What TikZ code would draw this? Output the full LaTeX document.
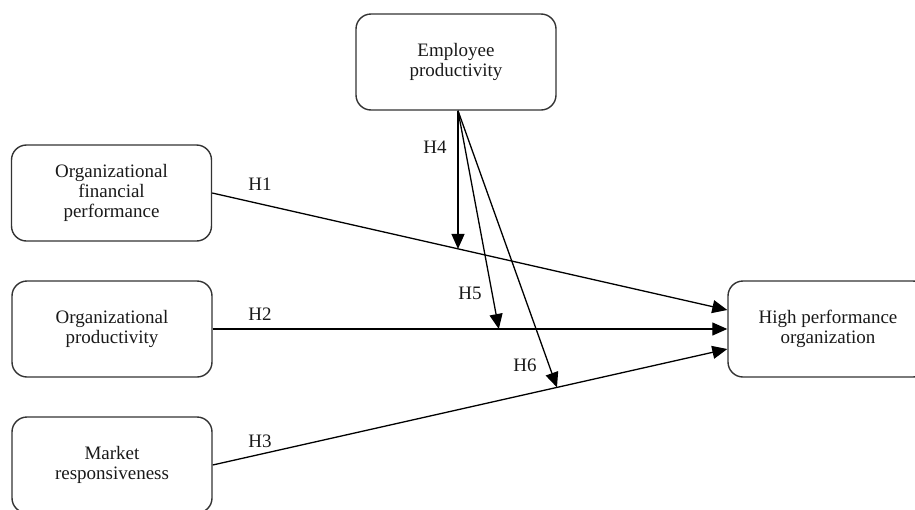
\documentclass[tikz,border=0pt]{standalone}
\usepackage{fontspec}
\setmainfont{Liberation Serif}
\usetikzlibrary{arrows.meta}
\tikzset{
  box/.style={draw=black!80,line width=1.4pt,rounded corners=15pt,minimum width=200pt,
    minimum height=96pt,align=center,font=\fontsize{19}{20}\selectfont,text=black!90},
  arr/.style={line width=1.3pt,-{Triangle[length=15pt,width=13pt]}},
  hyp/.style={anchor=base,font=\fontsize{19}{20}\selectfont,text=black!90,inner sep=0pt}
}
\begin{document}
\begin{tikzpicture}[x=1pt,y=-1pt]
  \useasboundingbox (0,0) rectangle (915,509);
  \node[box] (emp) at (456,62) {Employee\\productivity};
  \node[box] (ofp) at (111.5,193) {Organizational\\financial\\performance};
  \node[box] (op) at (112,329) {Organizational\\productivity};
  \node[box] (mr) at (112,465) {Market\\responsiveness};
  \node[box] (hpo) at (828,329) {High performance\\organization};
  % direct effects
  \draw[arr] (ofp.east) -- coordinate[pos=.478] (m1) ([yshift=19pt]hpo.west);
  \draw[arr] (op.east) -- coordinate[pos=.556] (m2) (hpo.west);
  \draw[arr] (mr.east) -- coordinate[pos=.669] (m3) ([yshift=-20pt]hpo.west);
  % moderating effects
  \coordinate (e) at ([xshift=2pt]emp.south);
  \draw[arr] (e) -- (e |- m1);
  \draw[arr] (e) -- (m2);
  \draw[arr] (e) -- (m3);
  % labels
  \node[hyp] (h1) at (260,190) {H\oldstylenums{1}};
  \node[hyp] (h2) at (260,320) {H\oldstylenums{2}};
  \node[hyp] (h3) at (260,447) {H\oldstylenums{3}};
  \node[hyp] (h4) at (435,153) {H\oldstylenums{4}};
  \node[hyp] (h5) at (470,299) {H\oldstylenums{5}};
  \node[hyp] (h6) at (525,371) {H\oldstylenums{6}};
\end{tikzpicture}
\end{document}
